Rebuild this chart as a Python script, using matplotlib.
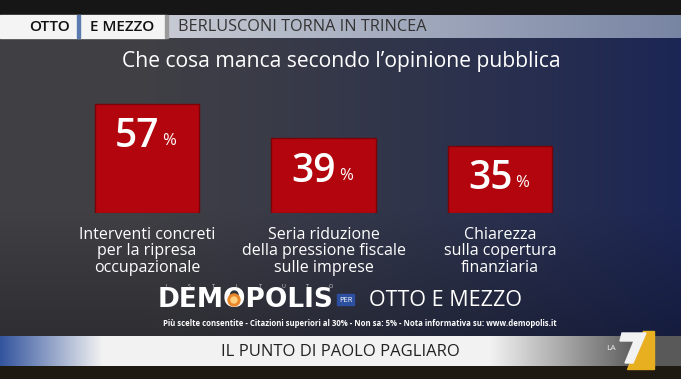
import numpy as np
import matplotlib.pyplot as plt
from matplotlib.patches import Rectangle, Polygon, Circle

# data
categories = ["Interventi concreti\nper la ripresa\noccupazionale",
              "Seria riduzione\ndella pressione fiscale\nsulle imprese",
              "Chiarezza\nsulla copertura\nfinanziaria"]
values = [57, 39, 35]

title = "Che cosa manca secondo l\u2019opinione pubblica"
header_show = ["OTTO", "E MEZZO"]
header_topic = "BERLUSCONI TORNA IN TRINCEA"
footnote = ("Più scelte consentite - Citazioni superiori al 30% - Non sa: 5% - "
            "Nota informativa su: www.demopolis.it")
bottom_text = "IL PUNTO DI PAOLO PAGLIARO"

W, H = 681, 379
plt.rcParams['font.family'] = ['Open Sans', 'DejaVu Sans']


def fy(y):
    return 1 - y / H


fig = plt.figure(figsize=(W / 100, H / 100), dpi=100)

# background gradient (gray on the left, dark blue on the right)
bg = fig.add_axes([0, 0, 1, 1])
bg.set_axis_off()
xx = np.linspace(0, 1, W)[None, :]
yy = np.linspace(0, 1, H)[:, None]
left = np.array([0.25, 0.25, 0.27])
right = np.array([0.11, 0.15, 0.33])
t = np.clip((xx - 0.2) / 0.8, 0, 1) ** 1.2
img = left[None, None, :] * (1 - t[..., None]) + right[None, None, :] * t[..., None]
shade = 1 - 0.35 * np.clip((yy - 0.55) / 0.45, 0, 1)
img = img * shade[..., None] * np.ones((1, W, 1))
img[:15] = 0.09
img[365:] = [0.12, 0.10, 0.07]
bg.imshow(np.clip(img, 0, 1), aspect='auto', extent=[0, W, H, 0])
bg.set_xlim(0, W)
bg.set_ylim(H, 0)

# header bar
bar_grad = np.linspace(0, 1, 400)[None, :]
c0 = np.array([0.88, 0.88, 0.89])
c1 = np.array([0.47, 0.52, 0.64])
hdr = c0 * (1 - bar_grad[..., None]) + c1 * bar_grad[..., None]
bg.imshow(hdr, aspect='auto', extent=[0, W, 38, 15], zorder=1)
bg.add_patch(Rectangle((0, 15), 165, 23, color='#f4f4f4', zorder=2))
bg.add_patch(Rectangle((77, 15), 3, 23, color='#5a7bb0', zorder=3))
bg.add_patch(Rectangle((165, 15), 3, 23, color='#9a9a9a', zorder=3))
bg.text(50, 27, header_show[0], ha='center', va='center', fontsize=11,
        fontweight='semibold', color='#111111', zorder=4)
bg.text(122, 27, header_show[1], ha='center', va='center', fontsize=11,
        fontweight='semibold', color='#111111', zorder=4)
bg.text(178, 27, header_topic, ha='left', va='center', fontsize=11.7,
        color='#333333', zorder=4)

# title
bg.text(341, 61, title, ha='center', va='center', fontsize=15.2,
        color='white')

# bars
ax = fig.add_axes([0, fy(213), 1, 115 / H])
ax.set_axis_off()
x = np.arange(len(values))
unit = 176.5
ax.set_xlim(-147 / unit, (W - 147) / unit)
ax.set_ylim(0, 60)
ax.bar(x, values, width=0.59, color='#b2050d', edgecolor='#7a0308',
       linewidth=1.0)
for xi, v in zip(x, values):
    ax.annotate(str(v), (xi, v), xytext=(9, -24), textcoords='offset points',
                ha='right', va='center', fontsize=28, fontweight='semibold',
                color='white')
    ax.annotate('%', (xi, v), xytext=(11, -27), textcoords='offset points',
                ha='left', va='center', fontsize=12, color='white')
for xi, lab in zip(x, categories):
    ax.annotate(lab, (xi, 0), xytext=(0, -10), textcoords='offset points',
                ha='center', va='top', fontsize=11.5, color='white',
                linespacing=1.05, annotation_clip=False)

# source block
bg.text(158, 300, "DEMOPOLIS", ha='left', va='center', fontsize=19,
        fontweight='heavy', family='DejaVu Sans', color='white')
bg.add_patch(Circle((234, 300), 6, color='#e8862a', zorder=3))
bg.add_patch(Circle((234, 300), 3, color='#ffd080', zorder=3))
for i, ch in enumerate("ISTITUTO"):
    bg.text(166 + i * 23.5, 286, ch, ha='center', va='center', fontsize=3.8,
            color='#dddddd')
bg.add_patch(Rectangle((337, 294), 17, 11, color='#2c4fa0'))
bg.text(345.5, 300, "PER", ha='center', va='center', fontsize=5.5,
        color='white')
bg.text(369, 300, "OTTO E MEZZO", ha='left', va='center', fontsize=15.5,
        color='white')
bg.text(163, 323, footnote, ha='left', va='center', fontsize=5.6,
        fontweight='bold', color='white')

# bottom bar
grad = np.linspace(0, 1, 681)
cb = np.zeros((1, 681, 3))
blue = np.array([0.20, 0.33, 0.62])
white = np.array([0.95, 0.95, 0.95])
gray = np.array([0.35, 0.35, 0.35])
for i, g in enumerate(grad):
    if g < 0.15:
        s = g / 0.15
        cb[0, i] = blue * (1 - s) + white * s
    elif g < 0.72:
        cb[0, i] = white
    else:
        s = min((g - 0.72) / 0.22, 1)
        cb[0, i] = white * (1 - s) + gray * s
bg.imshow(cb, aspect='auto', extent=[0, W, 366, 336], zorder=1)
bg.text(340, 352, bottom_text, ha='center', va='center', fontsize=12,
        color='#222222', zorder=2)

# LA7 logo
bg.add_patch(Polygon([[643, 331], [654, 331], [654, 369], [627, 369]],
                     closed=True, color='#e8b020', zorder=3))
bg.add_patch(Polygon([[622, 333], [646, 333], [633, 363], [625, 363],
                      [634, 341], [620, 341]], closed=True, color='#f2f2f2',
                     zorder=4))
bg.text(611, 349, "LA", ha='center', va='center', fontsize=6,
        color='#f2f2f2', zorder=4)

fig.savefig('out.png', dpi=100)
